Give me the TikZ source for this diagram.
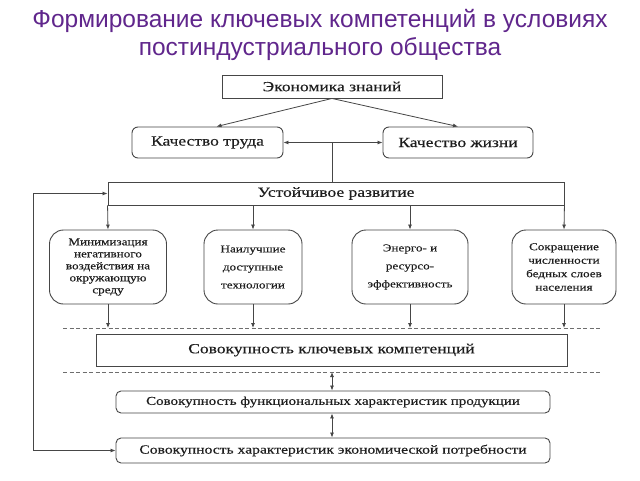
\documentclass[tikz,border=0pt]{standalone}
\usepackage{fontspec}
\setmainfont{Liberation Serif}
\newfontfamily\dg[FakeStretch=1.25,FakeBold=0.3]{Liberation Serif}
\newfontfamily\ttl{Liberation Sans}
\usetikzlibrary{arrows.meta}
\definecolor{ttlc}{RGB}{96,38,140}
\definecolor{ln}{RGB}{70,70,70}
\definecolor{tx}{RGB}{30,30,30}
\definecolor{dsh}{RGB}{110,110,110}
\begin{document}
\begin{tikzpicture}[x=1pt,y=-1pt,
  base/.style={draw=ln, line width=0.9pt, inner sep=0pt, text=tx, align=center},
  sqbox/.style={base, font=\dg\fontsize{14}{16}\selectfont},
  rbox/.style={base, rounded corners=6pt, font=\dg\fontsize{14}{16}\selectfont},
  midbox/.style={base, rounded corners=14pt},
  lowbox/.style={base, rounded corners=5pt},
  arr/.style={draw=ln, line width=0.8pt, -{Latex[length=5pt,width=4pt]}},
  darr/.style={draw=ln, line width=0.8pt, {Latex[length=5pt,width=4pt]}-{Latex[length=5pt,width=4pt]}},
  ln/.style={draw=ln, line width=0.8pt},
  dline/.style={draw=dsh, line width=0.7pt, dash pattern=on 4pt off 2.5pt}
]
\useasboundingbox[fill=white] (0,0) rectangle (640,480);

% title
\node[text=ttlc, font=\ttl\fontsize{24.5}{28}\selectfont, align=center] (title) at (320,35)
  {Формирование ключевых компетенций в условиях\\постиндустриального общества};

% top
\node[sqbox, minimum width=220, minimum height=23] (ek) at (332,86.5) {Экономика знаний};
\node[rbox, minimum width=151, minimum height=31] (kt) at (207.5,142.5) {Качество труда};
\node[rbox, minimum width=150, minimum height=31] (kz) at (458,142.5) {Качество жизни};
\node[sqbox, minimum width=456, minimum height=23] (ur) at (336,193.5) {Устойчивое развитие};

% middle boxes
\node[midbox, minimum width=117, minimum height=74, font=\dg\fontsize{10.5}{12}\selectfont] (m1) at (108,267)
  {Минимизация\\негативного\\воздействия на\\окружающую\\среду};
\node[midbox, minimum width=98, minimum height=74, font=\dg\fontsize{10.5}{18}\selectfont] (m2) at (253,267)
  {Наилучшие\\доступные\\технологии};
\node[midbox, minimum width=116, minimum height=74, font=\dg\fontsize{10.5}{18}\selectfont] (m3) at (410,267)
  {Энерго- и\\ресурсо-\\эффективность};
\node[midbox, minimum width=104, minimum height=74, font=\dg\fontsize{10.5}{13.5}\selectfont] (m4) at (564,267)
  {Сокращение\\численности\\бедных слоев\\населения};

% dashed lines
\coordinate (d1l) at (63,328);
\coordinate (d1r) at (600,328);
\coordinate (d2l) at (63,372);
\coordinate (d2r) at (600,372);
\draw[dline] (d1l) -- (d1r);
\draw[dline] (d2l) -- (d2r);

% bottom boxes
\node[sqbox, minimum width=471, minimum height=32] (kk) at (331.5,350) {Совокупность ключевых компетенций};
\node[lowbox, minimum width=434, minimum height=22, font=\dg\fontsize{12}{14}\selectfont] (fp) at (333,402)
  {Совокупность функциональных характеристик продукции};
\node[lowbox, minimum width=434, minimum height=25, font=\dg\fontsize{12.5}{14}\selectfont] (ep) at (333,450.5)
  {Совокупность характеристик экономической потребности};

% connectors top
\draw[arr] (ek.south) -- ([xshift=9pt]kt.north);
\draw[arr] (ek.south) -- (kz.north);
\draw[darr] (kt.east) -- (kz.west);
\coordinate (jn) at (332,142.5);
\draw[ln] (jn) -- (jn |- ur.north);

% ur to middle boxes
\draw[arr] (ur.south west) -- (m1.north);
\draw[arr] (m2.north |- ur.south) -- (m2.north);
\draw[arr] (m3.north |- ur.south) -- (m3.north);
\draw[arr] (ur.south east) -- (m4.north);

% middle boxes to dashed line
\draw[arr] (m1.south) -- (m1.south |- d1l);
\draw[arr] (m2.south) -- (m2.south |- d1l);
\draw[arr] (m3.south) -- (m3.south |- d1l);
\draw[arr] (m4.south) -- (m4.south |- d1l);

% lower double arrows
\coordinate (c1) at (332,372);
\draw[darr] (c1) -- (c1 |- fp.north);
\draw[darr] (c1 |- fp.south) -- (c1 |- ep.north);

% feedback
\coordinate (fb) at (33,450.5);
\draw[arr] (fb) -- (ep.west);
\draw[arr] (fb) |- (ur.west);
\end{tikzpicture}
\end{document}
